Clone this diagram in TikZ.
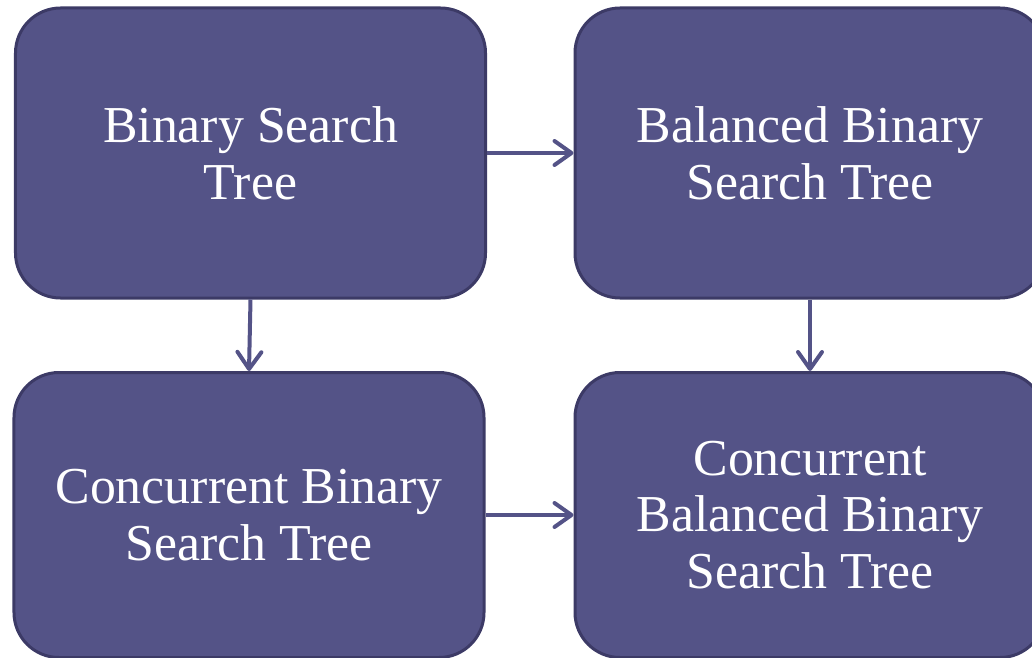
\documentclass[tikz,border=0pt]{standalone}
\usepackage{fontspec}
\setmainfont{Liberation Serif}
\usetikzlibrary{arrows.meta}
\definecolor{boxfill}{RGB}{84,83,135}
\definecolor{boxedge}{RGB}{60,58,102}
\begin{document}
\begin{tikzpicture}[x=1bp,y=-1bp,
  stagebox/.style={draw=boxedge, line width=3bp, fill=boxfill,
    rounded corners=45bp, text=white, align=center, inner sep=0pt,
    minimum width=470bp, font=\fontsize{52}{57}\selectfont},
  flow/.style={draw=boxfill, line width=4bp,
    -{Straight Barb[length=17bp,width=24bp,round]}}]
\useasboundingbox (0,0) rectangle (1032,658);
\clip (0,0) rectangle (1032,658);
% four stages of the tree family
\node[stagebox, minimum height=290bp] (bst)   at (250.5,153) {Binary Search\\Tree};
\node[stagebox, minimum height=290bp] (bbst)  at (810,153)   {Balanced Binary\\Search Tree};
\node[stagebox, minimum height=285bp] (cbst)  at (249,515)   {Concurrent Binary\\Search Tree};
\node[stagebox, minimum height=285bp] (cbbst) at (810,515)   {Concurrent\\Balanced Binary\\Search Tree};
% refinements between stages
\draw[flow] (bst.east) -- (bbst.west);
\draw[flow] (bst.south) -- (cbst.north);
\draw[flow] (bbst.south) -- (cbbst.north);
\draw[flow] (cbst.east) -- (cbbst.west);
\end{tikzpicture}
\end{document}
